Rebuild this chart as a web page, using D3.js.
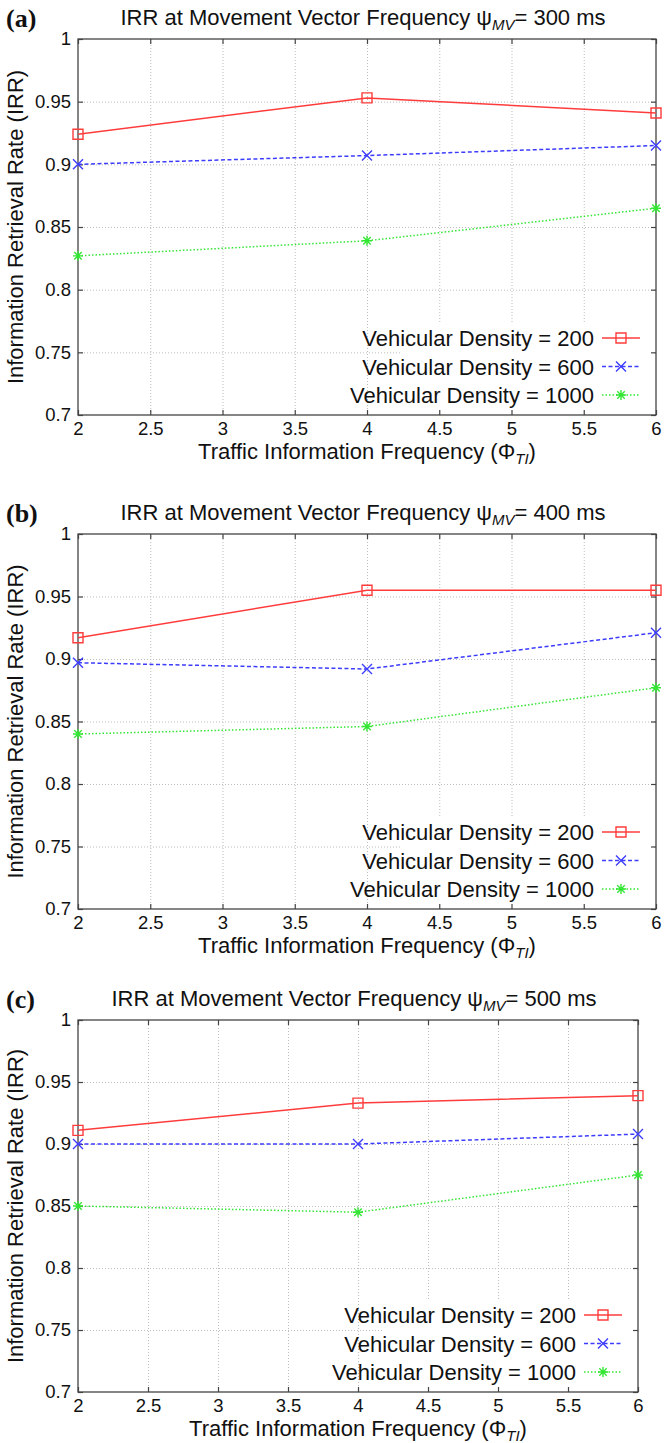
<!DOCTYPE html>
<html>
<head>
<meta charset="utf-8">
<script src="https://cdn.jsdelivr.net/npm/d3@7"></script>
<style>
body { margin: 0; background: #fff; }
svg { display: block; font-family: 'Liberation Sans', Arial, sans-serif; }
.grid line { stroke: #bdbdbd; stroke-width: 1; stroke-dasharray: 1,2; }
.grid path { display: none; }
.axis path { display: none; }
.axis line { stroke: #444; stroke-width: 1.2; }
.axis text { font-size: 18.5px; fill: #111; font-family: 'Liberation Sans', Arial, sans-serif; }
</style>
</head>
<body>
<svg id="chart" width="665" height="1443"></svg>
<script>
let x_values = [2, 4, 6]
let x_ticks = [2, 2.5, 3, 3.5, 4, 4.5, 5, 5.5, 6]
let y_ticks = [0.7, 0.75, 0.8, 0.85, 0.9, 0.95, 1]
let densities = ['200', '600', '1000']
let panel_labels = ['(a)', '(b)', '(c)']
let mv_freqs = ['300', '400', '500']

// rows: vehicular density 200, 600, 1000
let irr_300 = [
    [0.924, 0.953, 0.941],
    [0.900, 0.907, 0.915],
    [0.827, 0.839, 0.865]
]
let irr_400 = [
    [0.917, 0.955, 0.955],
    [0.897, 0.892, 0.921],
    [0.840, 0.846, 0.877]
]
let irr_500 = [
    [0.911, 0.933, 0.939],
    [0.900, 0.900, 0.908],
    [0.850, 0.845, 0.875]
]
let all_irr = [irr_300, irr_400, irr_500]

let colors = ['#ff3c3c', '#3c3cff', '#33e633']
let dashes = [null, '4,2.5', '1.5,2']

// plot frame of each panel
let boxes = [
    {'t': 39, 'b': 415, 'l': 78, 'r': 656},
    {'t': 534, 'b': 909, 'l': 78, 'r': 656},
    {'t': 1020, 'b': 1392, 'l': 78, 'r': 638}
]

let svg = d3.select('#chart')

function marker_path(kind, s) {
    if (kind === 0)
        return `M${-s},${-s}H${s}V${s}H${-s}Z`
    if (kind === 1)
        return `M${-s},${-s}L${s},${s}M${-s},${s}L${s},${-s}`
    let d = s * 0.75
    return `M${-s},0H${s}M0,${-s}V${s}M${-d},${-d}L${d},${d}M${-d},${d}L${d},${-d}`
}

function create_panel(idx) {
    let box = boxes[idx]
    let data = all_irr[idx]
    let w = box.r - box.l
    let h = box.b - box.t

    let x = d3.scaleLinear().domain([2, 6]).range([box.l, box.r])
    let y = d3.scaleLinear().domain([0.7, 1]).range([box.b, box.t])

    let g = svg.append('g')

    // dotted grid
    g.append('g')
        .attr('class', 'grid')
        .attr('transform', `translate(0,${box.b})`)
        .call(d3.axisBottom(x).tickValues(x_ticks.slice(1, -1)).tickSize(-h).tickFormat(''))
    g.append('g')
        .attr('class', 'grid')
        .attr('transform', `translate(${box.l},0)`)
        .call(d3.axisLeft(y).tickValues(y_ticks.slice(1, -1)).tickSize(-w).tickFormat(''))

    // opaque key box
    g.append('rect')
        .attr('x', box.r - 254)
        .attr('y', box.b - 91)
        .attr('width', 251)
        .attr('height', 88)
        .attr('fill', '#fff')

    g.append('rect')
        .attr('x', box.l)
        .attr('y', box.t)
        .attr('width', w)
        .attr('height', h)
        .attr('fill', 'none')
        .attr('stroke', '#444')
        .attr('stroke-width', 1.3)

    g.append('g')
        .attr('class', 'axis')
        .attr('transform', `translate(0,${box.b})`)
        .call(d3.axisBottom(x).tickValues(x_ticks).tickSizeInner(-5).tickSizeOuter(0).tickPadding(7).tickFormat(d => String(d)))
    g.append('g')
        .attr('class', 'axis')
        .attr('transform', `translate(0,${box.t})`)
        .call(d3.axisTop(x).tickValues(x_ticks).tickSizeInner(-5).tickSizeOuter(0).tickFormat(''))
    g.append('g')
        .attr('class', 'axis')
        .attr('transform', `translate(${box.l},0)`)
        .call(d3.axisLeft(y).tickValues(y_ticks).tickSizeInner(-5).tickSizeOuter(0).tickPadding(7).tickFormat(d => String(d)))
    g.append('g')
        .attr('class', 'axis')
        .attr('transform', `translate(${box.r},0)`)
        .call(d3.axisRight(y).tickValues(y_ticks).tickSizeInner(-5).tickSizeOuter(0).tickFormat(''))

    let line = d3.line()
        .x((d, i) => x(x_values[i]))
        .y(d => y(d))

    data.forEach((series, k) => {
        g.append('path')
            .datum(series)
            .attr('d', line)
            .attr('fill', 'none')
            .attr('stroke', colors[k])
            .attr('stroke-width', 1.5)
            .attr('stroke-dasharray', dashes[k])

        g.selectAll(null).data(series).enter()
            .append('path')
            .attr('transform', (d, i) => `translate(${x(x_values[i])},${y(d)})`)
            .attr('d', marker_path(k, 5))
            .attr('fill', 'none')
            .attr('stroke', colors[k])
            .attr('stroke-width', 1.4)
    })

    // key
    densities.forEach((dens, k) => {
        let ky = box.b - 77 + k * 28.5
        g.append('text')
            .attr('x', box.r - 62)
            .attr('y', ky + 8)
            .attr('text-anchor', 'end')
            .attr('font-size', 22)
            .attr('fill', '#111')
            .text(`Vehicular Density = ${dens}`)
        g.append('line')
            .attr('x1', box.r - 54)
            .attr('x2', box.r - 16)
            .attr('y1', ky)
            .attr('y2', ky)
            .attr('stroke', colors[k])
            .attr('stroke-width', 1.5)
            .attr('stroke-dasharray', dashes[k])
        g.append('path')
            .attr('transform', `translate(${box.r - 35},${ky})`)
            .attr('d', marker_path(k, 5))
            .attr('fill', 'none')
            .attr('stroke', colors[k])
            .attr('stroke-width', 1.4)
    })

    // title
    let title = g.append('text')
        .attr('x', (box.l + box.r) / 2 - 4)
        .attr('y', box.t - 14)
        .attr('text-anchor', 'middle')
        .attr('font-size', 22)
        .attr('fill', '#111')
    title.append('tspan').text('IRR at Movement Vector Frequency \u03c8')
    title.append('tspan').attr('font-style', 'italic').attr('font-size', 15).attr('dy', 5).text('MV')
    title.append('tspan').attr('dy', -5).text(`= ${mv_freqs[idx]} ms`)

    g.append('text')
        .attr('x', 6)
        .attr('y', box.t - 12)
        .attr('font-family', "'Liberation Serif', 'Times New Roman', serif")
        .attr('font-weight', 'bold')
        .attr('font-size', 26)
        .attr('fill', '#111')
        .text(panel_labels[idx])

    // axis titles
    let xt = g.append('text')
        .attr('x', (box.l + box.r) / 2)
        .attr('y', box.b + 44)
        .attr('text-anchor', 'middle')
        .attr('font-size', 22)
        .attr('fill', '#111')
    xt.append('tspan').text('Traffic Information Frequency (\u03a6')
    xt.append('tspan').attr('font-style', 'italic').attr('font-size', 15).attr('dy', 5).text('TI')
    xt.append('tspan').attr('dy', -5).text(')')

    g.append('text')
        .attr('transform', `translate(23,${(box.t + box.b) / 2}) rotate(-90)`)
        .attr('text-anchor', 'middle')
        .attr('font-size', 22)
        .attr('fill', '#111')
        .text('Information Retrieval Rate (IRR)')
}

for (let i = 0; i < 3; i++)
    create_panel(i)
</script>
</body>
</html>
